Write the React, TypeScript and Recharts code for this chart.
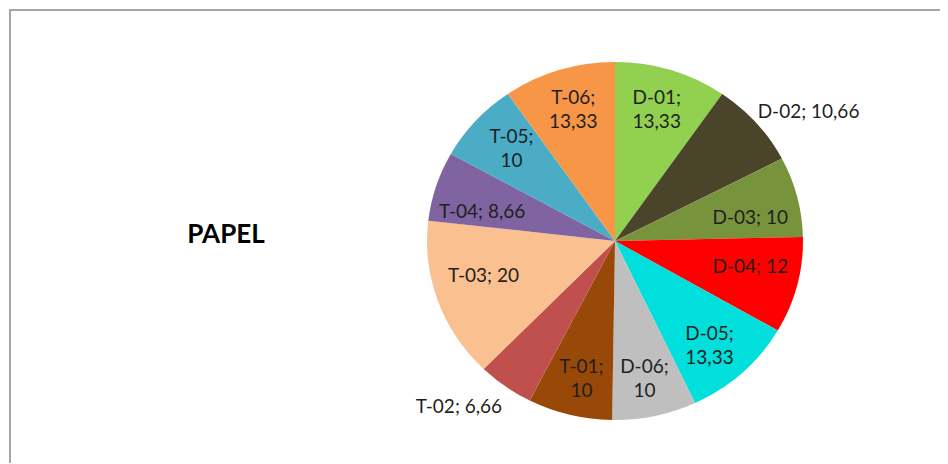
import React from 'react';
import { PieChart, Pie, Cell } from 'recharts';

const categories = ['D-01', 'D-02', 'D-03', 'D-04', 'D-05', 'D-06', 'T-01', 'T-02', 'T-03', 'T-04', 'T-05', 'T-06'];
const values = [13.33, 10.66, 10, 12, 13.33, 10, 10, 6.66, 20, 8.66, 10, 13.33];
const colors = ['#92D050', '#4A452A', '#77933C', '#FF0000', '#00DFDC', '#BFBFBF', '#984807', '#C0504D', '#FAC090', '#8064A2', '#4BACC6', '#F79646'];
const chartTitle = 'PAPEL';
const outsideLabels = ['D-02', 'T-02'];
const wrappedLabels = ['D-01', 'D-05', 'D-06', 'T-01', 'T-05', 'T-06'];

const data = categories.map((name, i) => ({ name, value: values[i] }));

const SX = 1.05;
const RAD = Math.PI / 180;
const FONT = 'Lato, "Open Sans", sans-serif';
const LABEL_COLOR = '#1f1f1f';
const LABEL_SIZE = 19;

const fmt = (v: number) => String(v).replace('.', ',');

function EllipseSector(props: any) {
  const { cx, cy, outerRadius, startAngle, endAngle, fill } = props;
  const r = outerRadius;
  const p = (a: number) => [cx + r * Math.cos(a * RAD) * SX, cy - r * Math.sin(a * RAD)];
  const [x1, y1] = p(startAngle);
  const [x2, y2] = p(endAngle);
  const large = Math.abs(endAngle - startAngle) > 180 ? 1 : 0;
  const sweep = endAngle < startAngle ? 1 : 0;
  const d = `M${cx},${cy} L${x1},${y1} A${r * SX},${r} 0 ${large} ${sweep} ${x2},${y2} Z`;
  return <path d={d} fill={fill} stroke="none" />;
}

function renderLabel(props: any) {
  const { cx, cy, midAngle, outerRadius, name, value } = props;
  const cos = Math.cos(midAngle * RAD);
  const sin = Math.sin(midAngle * RAD);
  const text = `${name}; ${fmt(value)}`;
  if (outsideLabels.includes(name)) {
    const R = outerRadius + 12;
    const x = cx + R * cos * SX + (cos >= 0 ? -8 : 4);
    const y = cy - R * sin + (sin >= 0 ? -4 : 9);
    return (
      <text x={x} y={y} textAnchor={cos >= 0 ? 'start' : 'end'} dominantBaseline="central"
        fontFamily={FONT} fontSize={LABEL_SIZE} fill={LABEL_COLOR}>{text}</text>
    );
  }
  const R = outerRadius * 0.78;
  const x = cx + R * cos;
  if (wrappedLabels.includes(name)) {
    const y = cy - R * sin;
    return (
      <text x={x} y={y} textAnchor="middle" dominantBaseline="central"
        fontFamily={FONT} fontSize={LABEL_SIZE} fill={LABEL_COLOR}>
        <tspan x={x} y={y - 12}>{`${name};`}</tspan>
        <tspan x={x} y={y + 12}>{fmt(value)}</tspan>
      </text>
    );
  }
  const y = cy - R * sin * 0.72;
  return (
    <text x={x} y={y} textAnchor="middle" dominantBaseline="central"
      fontFamily={FONT} fontSize={LABEL_SIZE} fill={LABEL_COLOR}>{text}</text>
  );
}

export default function App() {
  return (
    <div style={{ position: 'relative', left: 1, top: 1, width: 939, height: 455, boxSizing: 'border-box', borderTop: '2px solid #a6a6a6', borderLeft: '2px solid #a6a6a6', overflow: 'hidden', background: '#fff' }}>
      <div style={{ position: 'absolute', left: 150, top: 207, width: 130, textAlign: 'center', fontFamily: FONT, fontWeight: 700, fontSize: 26, color: '#000', lineHeight: '30px' }}>
        {chartTitle}
      </div>
      <PieChart width={937} height={453} style={{ position: 'absolute', left: 0, top: 0 }}>
        <Pie
          data={data}
          dataKey="value"
          nameKey="name"
          cx={599}
          cy={225}
          outerRadius={179}
          startAngle={90}
          endAngle={-270}
          stroke="none"
          shape={EllipseSector}
          label={renderLabel}
          labelLine={false}
          isAnimationActive={false}
        >
          {data.map((d, i) => (
            <Cell key={d.name} fill={colors[i]} />
          ))}
        </Pie>
      </PieChart>
    </div>
  );
}
